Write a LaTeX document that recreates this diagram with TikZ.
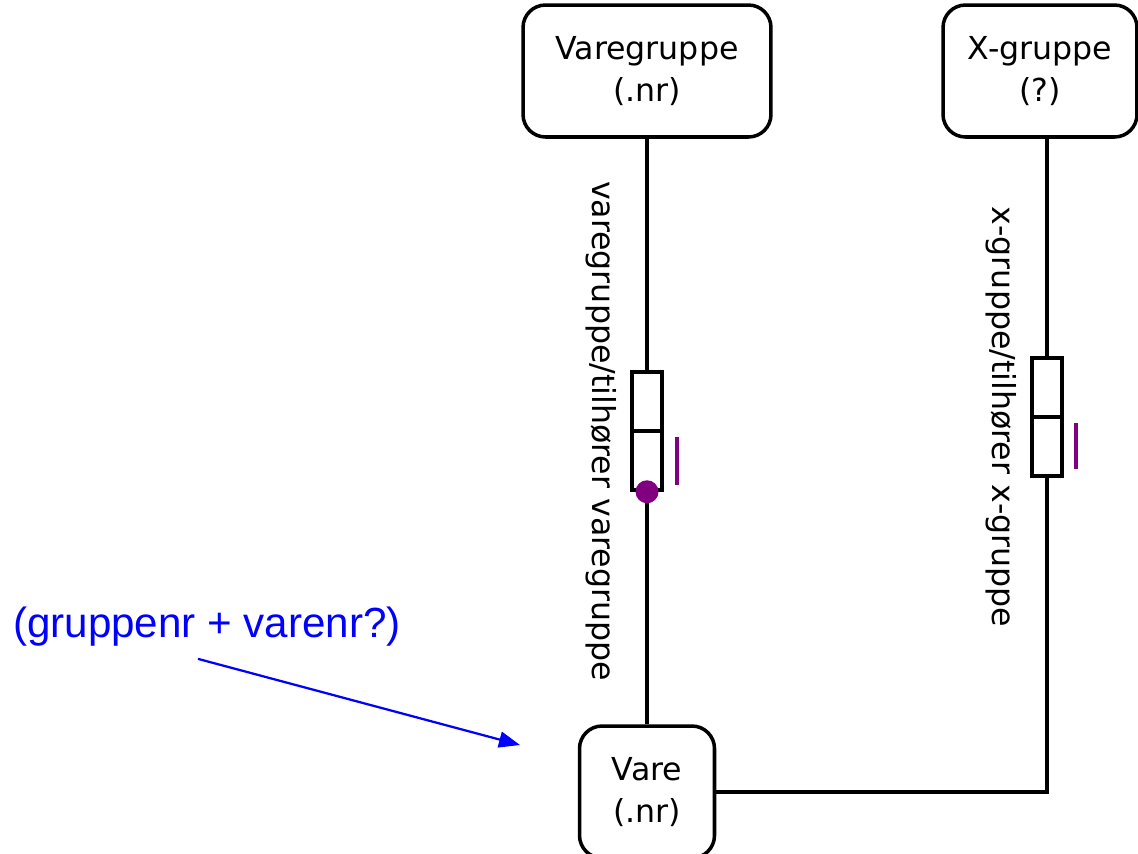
\documentclass[tikz,border=0pt]{standalone}
\usepackage{fontspec}
\setmainfont{DejaVu Sans}
\newfontfamily\notefont{Liberation Sans}
\usetikzlibrary{positioning, arrows.meta}
\definecolor{noteblue}{RGB}{0,0,255}
\definecolor{mustpurple}{RGB}{128,0,128}

\tikzset{
  entity/.style={draw, line width=2pt, rounded corners=0.45cm, align=center,
    font=\fontsize{18}{24}\selectfont, minimum height=2.64cm},
  rel/.style={line width=2pt},
  relbox/.style={draw, fill=white, line width=2pt, minimum width=0.6cm,
    minimum height=2.36cm, inner sep=0pt},
  rellabel/.style={rotate=-90, font=\fontsize{18}{22}\selectfont, inner sep=0pt},
  mustbar/.style={mustpurple, line width=0.09cm},
  note/.style={noteblue, font=\notefont\fontsize{24}{28}\selectfont},
}

\begin{document}
\begin{tikzpicture}[x=0.02cm, y=-0.02cm]
	\useasboundingbox (0,0) rectangle (1138,853);
	\clip (0,0) rectangle (1138,853);

	\node[entity, minimum width=4.96cm] (varegruppe) at (647,71) {Varegruppe\\(.nr)};
	\node[entity, minimum width=3.88cm] (xgruppe) at (1040,71) {X-gruppe\\(?)};
	\node[entity, minimum width=2.7cm] (vare) at (647,792) {Vare\\(.nr)};
	\coordinate (xdrop) at (1047,137);

	\draw[rel] (varegruppe) -- (vare);
	\draw[rel] (vare.east) -| (xdrop);

	% relationship ends
	\node[relbox] (vgbox) at (647,431) {};
	\draw[rel] (vgbox.west) -- (vgbox.east);
	\node[relbox] (xgbox) at (1047,417) {};
	\draw[rel] (xgbox.west) -- (xgbox.east);
	\node[circle, fill=mustpurple, minimum size=0.46cm, inner sep=0pt] (vgdot) at (vgbox.south) {};
	\draw[mustbar] (677,437) -- (677,485);
	\draw[mustbar] (1076,423) -- (1076,469);

	\node[rellabel] (vglabel) at (601,431) {varegruppe/tilhører varegruppe};
	\node[rellabel] (xglabel) at (1001,417) {x-gruppe/tilhører x-gruppe};

	% key note
	\node[note] (keynote) at (207,627) {(gruppenr + varenr?)};
	\coordinate (notetip) at (520,745);
	\draw[noteblue, line width=0.045cm, -{Triangle[length=0.42cm, width=0.32cm]}]
		([shift={(-0.18cm,-0.12cm)}]keynote.south) -- (notetip);
\end{tikzpicture}
\end{document}
